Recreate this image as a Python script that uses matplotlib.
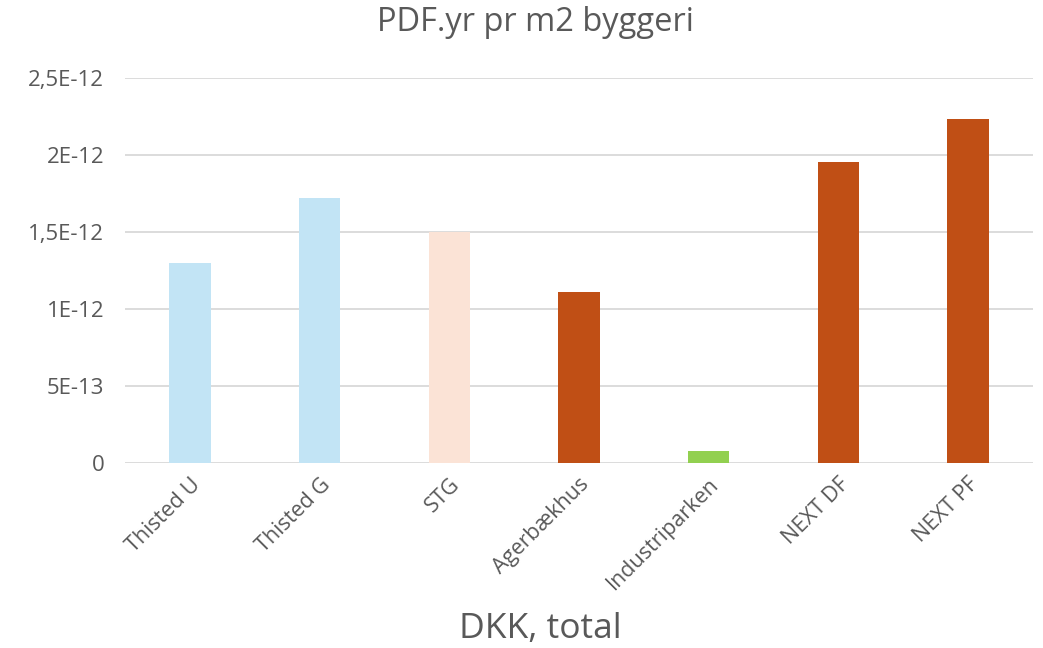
import matplotlib
matplotlib.use("Agg")
import matplotlib.pyplot as plt

# data
categories = ["Thisted U", "Thisted G", "STG", "Agerbækhus",
              "Industriparken", "NEXT DF", "NEXT PF"]
values = [1.30e-12, 1.72e-12, 1.50e-12, 1.11e-12, 0.08e-12, 1.955e-12, 2.235e-12]
bar_colors = ["#C2E4F5", "#C2E4F5", "#FBE3D6", "#C04F15",
              "#92D050", "#C04F15", "#C04F15"]
yticks = [0, 0.5e-12, 1.0e-12, 1.5e-12, 2.0e-12, 2.5e-12]
ytick_labels = ["0", "5E-13", "1E-12", "1,5E-12", "2E-12", "2,5E-12"]

text_color = "#595959"
plt.rcParams["font.family"] = ["Open Sans", "DejaVu Sans"]

fig = plt.figure(figsize=(10.43, 6.48), dpi=100)
ax = fig.add_axes([125 / 1043, 1 - 463 / 648, 908 / 1043, 385 / 648])

x = list(range(len(categories)))
ax.bar(x, values, width=0.32, color=bar_colors, zorder=3)

ax.set_xlim(-0.5, len(categories) - 0.5)
ax.set_ylim(0, 2.5e-12)
ax.set_yticks(yticks)
ax.set_yticklabels(ytick_labels, fontsize=16, color=text_color)
ax.set_xticks(x)
ax.set_xticklabels(categories, rotation=45, ha="right", rotation_mode="anchor",
                   fontsize=15.5, color=text_color)
ax.tick_params(axis="both", length=0)
ax.tick_params(axis="y", pad=15)
ax.tick_params(axis="x", pad=8)

ax.grid(axis="y", color="#D9D9D9", linewidth=1.3, zorder=0)
for s in ax.spines.values():
    s.set_visible(False)

fig.text(0.513, 0.965, "PDF.yr pr m2 byggeri", ha="center", va="center",
         fontsize=23.5, color=text_color)
fig.text(0.518, 0.03, "DKK, total", ha="center", va="center",
         fontsize=25.5, color=text_color)

fig.savefig("out.png", dpi=100)
